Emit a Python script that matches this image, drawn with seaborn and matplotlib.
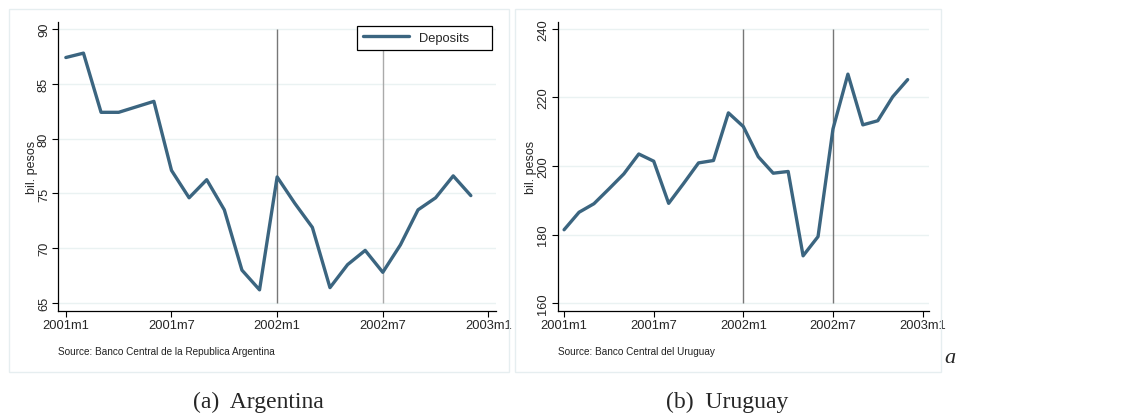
import pandas as pd
import matplotlib.pyplot as plt
import seaborn as sns
from matplotlib.patches import Rectangle

# monthly deposits, 2001m1 .. 2002m12
months = list(range(24))
argentina = [87.4, 87.8, 82.4, 82.4, 82.9, 83.4, 77.1, 74.6, 76.25, 73.5, 68.0, 66.2,
             76.5, 74.1, 71.9, 66.4, 68.5, 69.8, 67.8, 70.3, 73.5, 74.6, 76.6, 74.8]
uruguay = [181.4, 186.5, 189.0, 193.3, 197.7, 203.5, 201.4, 189.1, 194.9, 200.9, 201.6, 215.5,
           211.5, 202.7, 197.9, 198.4, 173.8, 179.4, 210.8, 226.8, 212.0, 213.2, 220.2, 225.2]
tick_pos = [0, 6, 12, 18, 24]
tick_labels = ["2001m1", "2001m7", "2002m1", "2002m7", "2003m1"]
event_months = [12, 18]

LINE = "#3b6580"
GRID = "#eaf2f2"
BOX = "#e6eef0"

sns.set_style("ticks")
plt.rcParams["font.family"] = ["Liberation Sans", "DejaVu Sans"]

fig = plt.figure(figsize=(11.25, 4.14), dpi=100)

# panel frames
for x0, w in [(0.008, 0.4444), (0.4578, 0.3787)]:
    fig.patches.append(Rectangle((x0, 0.099), w, 0.8768, transform=fig.transFigure,
                                 fill=False, edgecolor=BOX, linewidth=1.0))

ax_a = fig.add_axes([0.0518, 0.2464, 0.3891, 0.6988])
ax_b = fig.add_axes([0.4957, 0.2464, 0.3301, 0.6988])

panels = [
    (ax_a, argentina, [65, 70, 75, 80, 85, 90], (64.27, 90.67),
     "Source: Banco Central de la Republica Argentina", ["#777777", "#aaaaaa"]),
    (ax_b, uruguay, [160, 180, 200, 220, 240], (157.7, 242.1),
     "Source: Banco Central del Uruguay", ["#777777", "#777777"]),
]

for ax, vals, yt, ylim, src, vcols in panels:
    df = pd.DataFrame({"month": months, "Deposits": vals})
    for yv in yt:
        ax.axhline(yv, color=GRID, linewidth=1.0, zorder=0)
    ax.vlines(event_months, yt[0], yt[-1], colors=vcols, linewidth=1.0, zorder=1)
    sns.lineplot(data=df, x="month", y="Deposits", ax=ax, color=LINE, linewidth=2.4,
                 label="Deposits" if ax is ax_a else None, zorder=3)
    ax.set_xlim(-0.43, 24.43)
    ax.set_ylim(*ylim)
    ax.set_xticks(tick_pos)
    ax.set_xticklabels(tick_labels, fontsize=9.3)
    ax.set_yticks(yt)
    ax.set_yticklabels([str(v) for v in yt], fontsize=9.3, rotation=90, va="center")
    ax.set_xlabel("")
    ax.set_ylabel("bil. pesos", fontsize=9, labelpad=0)
    ax.tick_params(axis="both", length=4, width=0.8, color="black", pad=2)
    for s in ["top", "right"]:
        ax.spines[s].set_visible(False)
    for s in ["left", "bottom"]:
        ax.spines[s].set_color("black")
        ax.spines[s].set_linewidth(0.9)
    ax.text(0.0, -0.14, src, transform=ax.transAxes, fontsize=7.2, va="center",
            ha="left", color="#222222")

leg = ax_a.legend(loc="upper left", bbox_to_anchor=(0.682, 0.906, 0.309, 0.079),
                  mode="expand", borderaxespad=0, fontsize=9.3, handlelength=3.6,
                  fancybox=False, edgecolor="black", framealpha=1, borderpad=0.45)
leg.get_frame().set_linewidth(0.9)

fig.text(0.2293, 0.027, "(a)  Argentina", ha="center", va="center",
         family="Liberation Serif", fontsize=17)
fig.text(0.646, 0.027, "(b)  Uruguay", ha="center", va="center",
         family="Liberation Serif", fontsize=17)
fig.text(0.8444, 0.135, "a", ha="center", va="center", family="Liberation Serif",
         style="italic", fontsize=16)

fig.savefig("out.png", dpi=100)
